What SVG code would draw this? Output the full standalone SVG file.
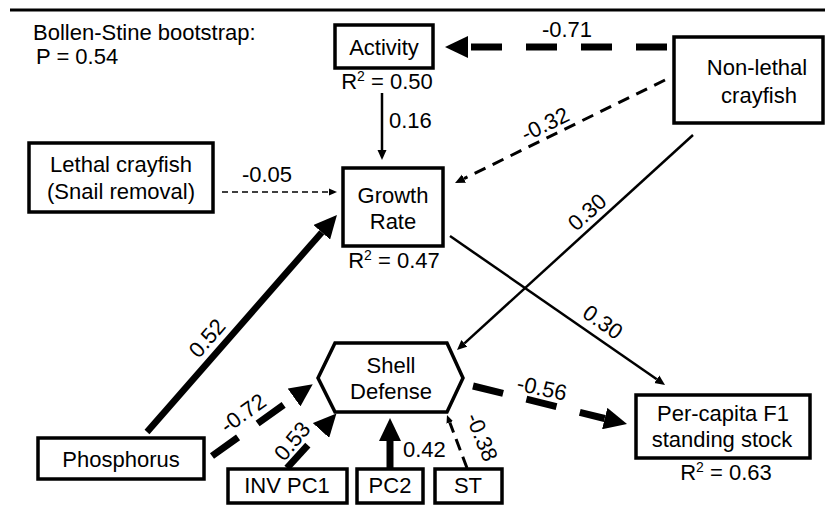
<svg xmlns="http://www.w3.org/2000/svg" width="825" height="508" viewBox="0 0 825 508">
<style>
text{font-family:"Liberation Sans",Arial,sans-serif;font-size:22px;fill:#000}
.c{text-anchor:middle}
.box{fill:#fff;stroke:#000;stroke-width:3.5}
.e{fill:none;stroke:#000}
.thin{stroke-width:2.5}
.thick{stroke-width:7}
.d1{stroke-dasharray:31 24}
.sup{font-size:14px}
</style>
<defs>
<marker id="big" markerUnits="userSpaceOnUse" viewBox="0 -11 23 22" markerWidth="23" markerHeight="22" refX="0" refY="0" orient="auto"><path d="M0,-11 L23,0 L0,11 Z" fill="#000"/></marker>
<marker id="small" markerUnits="userSpaceOnUse" viewBox="0 -5 10 10" markerWidth="10" markerHeight="10" refX="0" refY="0" orient="auto"><path d="M0,-4.5 L10,0 L0,4.5 Z" fill="#000"/></marker>
<marker id="tiny" markerUnits="userSpaceOnUse" viewBox="0 -4 8 8" markerWidth="8" markerHeight="8" refX="0" refY="0" orient="auto"><path d="M0,-3.5 L8,0 L0,3.5 Z" fill="#000"/></marker>
</defs>
<line x1="10" y1="10" x2="825" y2="10" stroke="#000" stroke-width="3"/>
<g id="fit">
<text x="33" y="40">Bollen-Stine bootstrap:</text>
<text x="36" y="64">P = 0.54</text>
</g>
<g id="connectors">
<line class="e thick d1" x1="667" y1="47" x2="468" y2="47" marker-end="url(#big)"/>
<line class="e thin" x1="382" y1="93" x2="382" y2="150" marker-end="url(#small)"/>
<line class="e" stroke-width="1.5" stroke-dasharray="6 4" x1="222" y1="192" x2="329" y2="192" marker-end="url(#tiny)"/>
<line class="e" stroke-width="3" stroke-dasharray="12 8" x1="665" y1="80" x2="464" y2="178.6" marker-end="url(#small)"/>
<line class="e thin" x1="693" y1="135" x2="464.4" y2="343.3" marker-end="url(#small)"/>
<line class="e thin" x1="450" y1="236" x2="656.8" y2="379.3" marker-end="url(#small)"/>
<line class="e" stroke-width="6.5" x1="147" y1="432" x2="321.8" y2="232.3" marker-end="url(#big)"/>
<line class="e thick" stroke-dasharray="32 24" x1="212" y1="456" x2="294" y2="397.5" marker-end="url(#big)"/>
<line class="e thick" stroke-dasharray="31 40" x1="287" y1="468" x2="321" y2="430.5" marker-end="url(#big)"/>
<line class="e thick" x1="390" y1="468" x2="390" y2="441" marker-end="url(#big)"/>
<line class="e" stroke-width="3" stroke-dasharray="12 7" x1="467" y1="468" x2="449.8" y2="422.5" marker-end="url(#tiny)"/>
<line class="e thick d1" x1="473" y1="386" x2="604.7" y2="418.5" marker-end="url(#big)"/>
<text class="c" x="567" y="37">-0.71</text>
<text x="389" y="128">0.16</text>
<text class="c" x="267" y="182">-0.05</text>
<text class="c" dy="0.35em" transform="translate(545,124) rotate(-26)">-0.32</text>
<text class="c" dy="0.35em" transform="translate(587,212) rotate(-42)">0.30</text>
<text class="c" dy="0.35em" transform="translate(603,322) rotate(35)">0.30</text>
<text class="c" dy="0.35em" transform="translate(207,338) rotate(-49)">0.52</text>
<text class="c" dy="0.35em" transform="translate(243,413) rotate(-36)">-0.72</text>
<text class="c" dy="0.35em" transform="translate(292,441) rotate(-50)">0.53</text>
<text x="403" y="457">0.42</text>
<text class="c" dy="0.35em" transform="translate(482,437) rotate(68)">-0.38</text>
<text class="c" dy="0.35em" transform="translate(542,388) rotate(12)">-0.56</text>
</g>
<g id="activity">
<rect class="box" x="335" y="25" width="98" height="43"/>
<text class="c" x="384" y="55">Activity</text>
<text class="c" x="387" y="89">R<tspan class="sup" dy="-8">2</tspan><tspan dy="8"> = 0.50</tspan></text>
</g>
<g id="nonlethal">
<rect class="box" x="674" y="37" width="149" height="86"/>
<text class="c" x="757" y="75">Non-lethal</text>
<text class="c" x="759" y="103">crayfish</text>
</g>
<g id="lethal">
<rect class="box" x="29" y="143" width="184" height="69"/>
<text class="c" x="121" y="172">Lethal crayfish</text>
<text class="c" x="121" y="199">(Snail removal)</text>
</g>
<g id="growth">
<rect class="box" x="343" y="168" width="100" height="78"/>
<text class="c" x="393" y="203">Growth</text>
<text class="c" x="393" y="229">Rate</text>
<text class="c" x="394" y="268">R<tspan class="sup" dy="-8">2</tspan><tspan dy="8"> = 0.47</tspan></text>
</g>
<g id="shell">
<polygon class="box" points="318,378 335,343 447,343 463,378 447,412 335,412"/>
<text class="c" x="391" y="373">Shell</text>
<text class="c" x="391" y="399">Defense</text>
</g>
<g id="phosphorus">
<rect class="box" x="38" y="438" width="166" height="41"/>
<text class="c" x="121" y="467">Phosphorus</text>
</g>
<g id="invpc1">
<rect class="box" x="228" y="469" width="119" height="34"/>
<text class="c" x="287" y="493">INV PC1</text>
</g>
<g id="pc2">
<rect class="box" x="357" y="469" width="66" height="34"/>
<text class="c" x="390" y="493">PC2</text>
</g>
<g id="st">
<rect class="box" x="435" y="469" width="67" height="34"/>
<text class="c" x="468" y="493">ST</text>
</g>
<g id="percapita">
<rect class="box" x="636" y="395" width="174" height="63"/>
<text class="c" x="723" y="421">Per-capita F1</text>
<text class="c" x="722" y="447">standing stock</text>
<text class="c" x="726" y="480">R<tspan class="sup" dy="-8">2</tspan><tspan dy="8"> = 0.63</tspan></text>
</g>
</svg>
